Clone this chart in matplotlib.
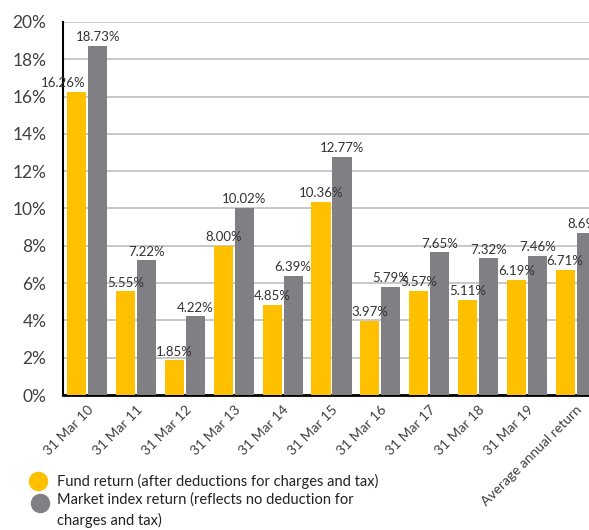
import matplotlib
matplotlib.use("Agg")
import matplotlib.pyplot as plt
from matplotlib.lines import Line2D
import numpy as np

categories = ["31 Mar 10", "31 Mar 11", "31 Mar 12", "31 Mar 13", "31 Mar 14",
              "31 Mar 15", "31 Mar 16", "31 Mar 17", "31 Mar 18", "31 Mar 19",
              "Average annual return"]
fund_return = [16.26, 5.55, 1.85, 8.00, 4.85, 10.36, 3.97, 5.57, 5.11, 6.19, 6.71]
index_return = [18.73, 7.22, 4.22, 10.02, 6.39, 12.77, 5.79, 7.65, 7.32, 7.46, 8.69]
y_ticks = [0, 2, 4, 6, 8, 10, 12, 14, 16, 18, 20]

YELLOW = "#FFC000"
GREY = "#807F84"
TXT = "#404040"

plt.rcParams["font.family"] = ["Lato", "DejaVu Sans"]

W, H = 589, 530
fig = plt.figure(figsize=(W / 100, H / 100), dpi=100)
# plot area runs past the right edge of the picture, like the source
ax = fig.add_axes([63 / W, 135 / H, 537 / W, 373 / H])

x = np.arange(len(categories))
bw = 0.39
ax.bar(x - 0.215, fund_return, bw, color=YELLOW, zorder=3)
ax.bar(x + 0.215, index_return, bw, color=GREY, zorder=3)

# data labels, first fund label nudged left as in the original
nudge = {0: -10}
for i, v in enumerate(fund_return):
    ax.annotate(f"{v:.2f}%", (x[i] - 0.215, v), xytext=(nudge.get(i, 0), 2),
                textcoords="offset points", ha="center", va="bottom",
                fontsize=9.5, color="#333333", zorder=5)
for i, v in enumerate(index_return):
    ax.annotate(f"{v:.2f}%", (x[i] + 0.215, v), xytext=(0, 2),
                textcoords="offset points", ha="center", va="bottom",
                fontsize=9.5, color="#333333", zorder=5, annotation_clip=False)

ax.set_xlim(-0.5, len(categories) - 0.5)
ax.set_ylim(0, 20)
ax.set_yticks(y_ticks)
ax.set_yticklabels([f"{t}%" for t in y_ticks], fontsize=12.5, color=TXT)
ax.tick_params(axis="y", length=0, pad=12)
ax.set_xticks(x)
ax.set_xticklabels(categories, rotation=45, ha="right", rotation_mode="anchor",
                   fontsize=10, color=TXT)
ax.tick_params(axis="x", length=0, pad=6)

ax.grid(axis="y", color="#C4C4C4", linewidth=1.3, zorder=0)
for s in ["top", "right"]:
    ax.spines[s].set_visible(False)
ax.spines["left"].set_color("black")
ax.spines["left"].set_linewidth(1.5)
ax.spines["bottom"].set_color("black")
ax.spines["bottom"].set_linewidth(2)

# legend drawn by hand
def px(xp, yp):
    return xp / W, 1 - yp / H

for (cx, cy), col in [((38, 481), YELLOW), ((40, 503), GREY)]:
    fig.add_artist(Line2D([px(cx, cy)[0]], [px(cx, cy)[1]], marker="o",
                          markersize=13, color=col, linestyle="none"))
fig.text(*px(57, 481), "Fund return (after deductions for charges and tax)",
         fontsize=10.5, color="#222222", va="center")
fig.text(*px(57, 500), "Market index return (reflects no deduction for",
         fontsize=10.5, color="#222222", va="center")
fig.text(*px(57, 520), "charges and tax)",
         fontsize=10.5, color="#222222", va="center")

fig.savefig("out.png", dpi=100)
